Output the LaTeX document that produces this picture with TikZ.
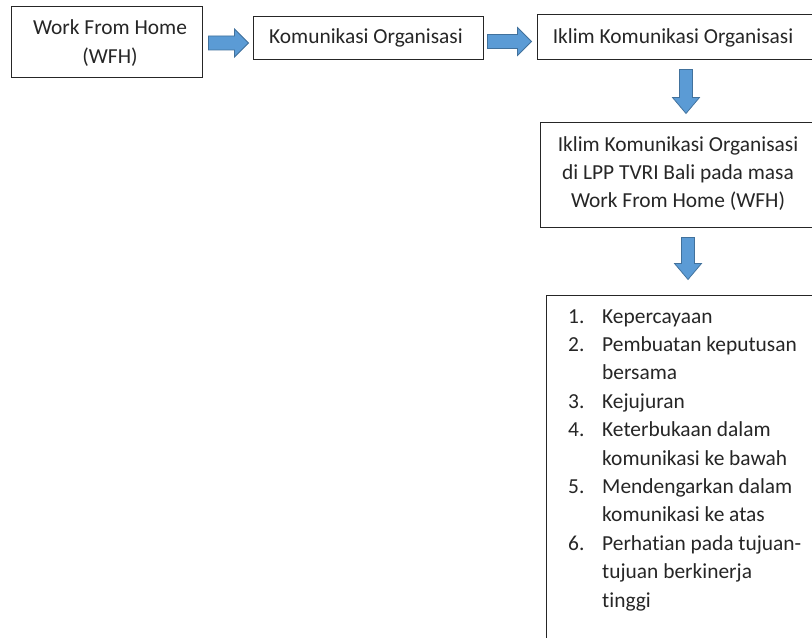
\documentclass[tikz,border=0pt]{standalone}
\usepackage{fontspec}
\setmainfont{Carlito}[Ligatures={NoCommon,NoContextual}]
\definecolor{arrfill}{HTML}{5B9BD5}
\definecolor{arrline}{HTML}{41719C}
\definecolor{txt}{HTML}{262626}
\tikzset{
  boxstyle/.style={draw=black!85, line width=1bp, inner sep=0pt, fill=white},
  lbl/.style={anchor=base, inner sep=0pt, text=txt, font=\fontsize{21.4bp}{28.4bp}\selectfont},
  lblw/.style={lbl, anchor=base west},
  arrowshape/.style={fill=arrfill, draw=arrline, line width=0.75bp, line join=miter},
  harrow/.pic={\path[arrowshape] (0,-7) -- (#1-14,-7) -- (#1-14,-14) -- (#1,0) -- (#1-14,14) -- (#1-14,7) -- (0,7) -- cycle;},
  varrow/.pic={\path[arrowshape] (-6.5,0) -- (-6.5,#1-16) -- (-13.5,#1-16) -- (0,#1) -- (13.5,#1-16) -- (6.5,#1-16) -- (6.5,0) -- cycle;},
}
\begin{document}
\begin{tikzpicture}[x=1bp,y=-1bp]
\useasboundingbox (0,0) rectangle (812,638);
\clip (0,0) rectangle (812,638);
\fill[white] (0,0) rectangle (812,638);

% boxes
\node[boxstyle, minimum width=190bp, minimum height=71bp] (b1) at (107,42.5) {};
\node[boxstyle, minimum width=230bp, minimum height=43bp] (b2) at (368,38.5) {};
\node[boxstyle, minimum width=293bp, minimum height=45bp] (b3) at (683.5,37.5) {};
\node[boxstyle, minimum width=290bp, minimum height=104bp] (b4) at (685,175) {};
\node[boxstyle, minimum width=284bp, minimum height=364bp] (b5) at (688,478) {};

% block arrows between boxes
\path (b1.east) ++(6,0.5) pic {harrow=40};
\path (b2.east) ++(4,3) pic {harrow=44};
\path (b3.south) ++(2.5,9) pic {varrow=44};
\path (b4.south) ++(3,10) pic {varrow=42};

% texts
\node[lbl] (t1a) at (110,35) {Work From Home};
\node[lbl] (t1b) at (110,64) {(WFH)};
\node[lbl] (t2) at (366,44) {Komunikasi Organisasi};
\node[lbl] (t3) at (673,44) {Iklim Komunikasi Organisasi};
\node[lbl] (t4a) at (678,152) {Iklim Komunikasi Organisasi};
\node[lbl] (t4b) at (678,180) {di LPP TVRI Bali pada masa};
\node[lbl] (t4c) at (678,207.5) {Work From Home (WFH)};

% list
\foreach \k/\num/\txt in {0/1./Kepercayaan, 1/2./Pembuatan keputusan, 2//bersama,
  3/3./Kejujuran, 4/4./Keterbukaan dalam, 5//komunikasi ke bawah,
  6/5./Mendengarkan dalam, 7//komunikasi ke atas, 8/6./Perhatian pada tujuan-,
  9//tujuan berkinerja, 10//tinggi}{
  \node[lblw] (n\k) at (568,323+28.4*\k) {\num};
  \node[lblw] (l\k) at (602,323+28.4*\k) {\txt};
}
\end{tikzpicture}
\end{document}
